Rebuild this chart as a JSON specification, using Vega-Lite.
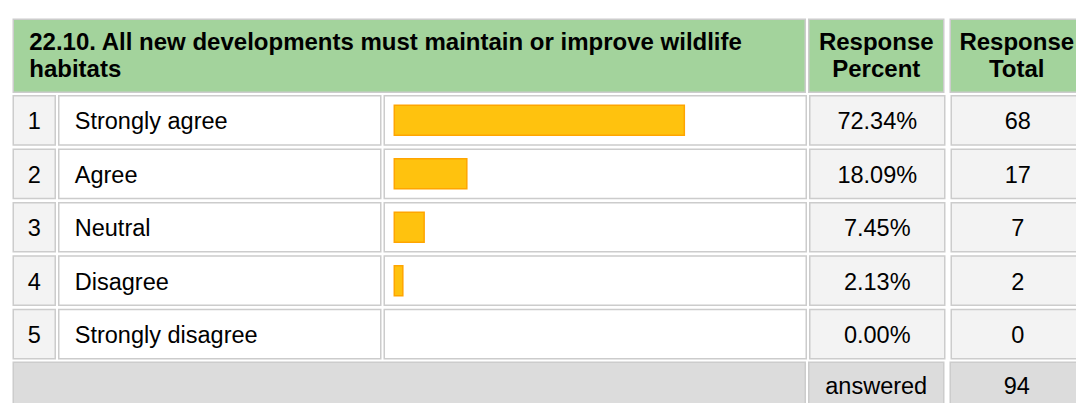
{
  "$schema": "https://vega.github.io/schema/vega-lite/v6.json",
  "padding": {"left": 12.25, "top": 18.25, "right": 0, "bottom": 0},
  "background": "white",
  "spacing": 1.5,
  "config": {
    "view": {"stroke": null},
    "font": "Liberation Sans",
    "text": {"font": "Liberation Sans", "color": "#000000"}
  },
  "datasets": {
    "rows": [
      {"n": "1", "label": "Strongly agree", "pct": 72.34, "pctText": "72.34%", "count": 68},
      {"n": "2", "label": "Agree", "pct": 18.09, "pctText": "18.09%", "count": 17},
      {"n": "3", "label": "Neutral", "pct": 7.45, "pctText": "7.45%", "count": 7},
      {"n": "4", "label": "Disagree", "pct": 2.13, "pctText": "2.13%", "count": 2},
      {"n": "5", "label": "Strongly disagree", "pct": 0, "pctText": "0.00%", "count": 0}
    ],
    "header": [
      {"title": "22.10. All new developments must maintain or improve wildlife\nhabitats", "pctHead": "Response\nPercent", "totalHead": "Response\nTotal"}
    ],
    "footer": [
      {"label": "answered", "total": 94}
    ]
  },
  "vconcat": [
    {
      "spacing": 1.5,
      "hconcat": [
        {
          "width": 792, "height": 73,
          "data": {"name": "header"},
          "layer": [
            {"mark": {"type": "rect", "fill": "#a3d39c", "stroke": "#cccccc", "strokeWidth": 1.5},
             "encoding": {"x": {"value": 0}, "x2": {"value": "width"}, "y": {"value": 0}, "y2": {"value": "height"}}},
            {"mark": {"type": "text", "align": "left", "baseline": "middle", "lineBreak": "\n", "lineHeight": 27, "fontSize": 24, "fontWeight": "bold", "dx": 16, "dy": -12.5},
             "encoding": {"x": {"value": 0}, "text": {"field": "title"}}}
          ]
        },
        {
          "spacing": 4.5,
          "hconcat": [
            {
              "width": 135, "height": 73,
              "data": {"name": "header"},
              "layer": [
                {"mark": {"type": "rect", "fill": "#a3d39c", "stroke": "#cccccc", "strokeWidth": 1.5},
                 "encoding": {"x": {"value": 0}, "x2": {"value": "width"}, "y": {"value": 0}, "y2": {"value": "height"}}},
                {"mark": {"type": "text", "align": "center", "baseline": "middle", "lineBreak": "\n", "lineHeight": 27, "fontSize": 24, "fontWeight": "bold", "dy": -12.5},
                 "encoding": {"text": {"field": "pctHead"}}}
              ]
            },
            {
              "width": 133, "height": 73,
              "data": {"name": "header"},
              "layer": [
                {"mark": {"type": "rect", "fill": "#a3d39c", "stroke": "#cccccc", "strokeWidth": 1.5},
                 "encoding": {"x": {"value": 0}, "x2": {"value": "width"}, "y": {"value": 0}, "y2": {"value": "height"}}},
                {"mark": {"type": "text", "align": "center", "baseline": "middle", "lineBreak": "\n", "lineHeight": 27, "fontSize": 24, "fontWeight": "bold", "dy": -12.5},
                 "encoding": {"text": {"field": "totalHead"}}}
              ]
            }
          ]
        }
      ]
    },
    {
      "spacing": 1.5,
      "hconcat": [
        {
          "width": 42, "height": 263,
          "data": {"name": "rows"},
          "encoding": {"y": {"field": "n", "type": "nominal", "axis": null, "scale": {"domain": ["1", "2", "3", "4", "5"], "paddingInner": 0.08, "paddingOuter": 0}}},
          "layer": [
            {"mark": {"type": "rect", "fill": "#f3f3f3", "stroke": "#cccccc", "strokeWidth": 1.5},
             "encoding": {"x": {"value": 0}, "x2": {"value": "width"}}},
            {"mark": {"type": "text", "align": "center", "baseline": "middle", "fontSize": 23.5, "dy": 2},
             "encoding": {"text": {"field": "n"}}}
          ]
        },
        {
          "width": 322, "height": 263,
          "data": {"name": "rows"},
          "encoding": {"y": {"field": "n", "type": "nominal", "axis": null, "scale": {"domain": ["1", "2", "3", "4", "5"], "paddingInner": 0.08, "paddingOuter": 0}}},
          "layer": [
            {"mark": {"type": "rect", "fill": "#ffffff", "stroke": "#cccccc", "strokeWidth": 1.5},
             "encoding": {"x": {"value": 0}, "x2": {"value": "width"}}},
            {"mark": {"type": "text", "align": "left", "baseline": "middle", "fontSize": 23.5, "dx": 16, "dy": 2},
             "encoding": {"x": {"value": 0}, "text": {"field": "label"}}}
          ]
        },
        {
          "width": 422, "height": 263,
          "data": {"name": "rows"},
          "encoding": {"y": {"field": "n", "type": "nominal", "axis": null, "scale": {"domain": ["1", "2", "3", "4", "5"], "paddingInner": 0.08, "paddingOuter": 0}}},
          "layer": [
            {"mark": {"type": "rect", "fill": "#ffffff", "stroke": "#cccccc", "strokeWidth": 1.5},
             "encoding": {"x": {"value": 0}, "x2": {"value": "width"}}},
            {"transform": [{"filter": "datum.pct > 0"}],
             "mark": {"type": "bar", "fill": "#ffc20e", "stroke": "#ffa500", "strokeWidth": 1.5, "height": {"band": 0.61}},
             "encoding": {
               "x": {"field": "pct", "type": "quantitative", "axis": null, "scale": {"domain": [-2.5, 102.75], "nice": false, "zero": false}},
               "x2": {"datum": 0}
             }}
          ]
        },
        {
          "spacing": 4.5,
          "hconcat": [
            {
              "width": 135, "height": 263,
              "data": {"name": "rows"},
              "encoding": {"y": {"field": "n", "type": "nominal", "axis": null, "scale": {"domain": ["1", "2", "3", "4", "5"], "paddingInner": 0.08, "paddingOuter": 0}}},
              "layer": [
                {"mark": {"type": "rect", "fill": "#f3f3f3", "stroke": "#cccccc", "strokeWidth": 1.5},
                 "encoding": {"x": {"value": 0}, "x2": {"value": "width"}}},
                {"mark": {"type": "text", "align": "center", "baseline": "middle", "fontSize": 23.5, "dy": 2},
                 "encoding": {"text": {"field": "pctText"}}}
              ]
            },
            {
              "width": 133, "height": 263,
              "data": {"name": "rows"},
              "encoding": {"y": {"field": "n", "type": "nominal", "axis": null, "scale": {"domain": ["1", "2", "3", "4", "5"], "paddingInner": 0.08, "paddingOuter": 0}}},
              "layer": [
                {"mark": {"type": "rect", "fill": "#f3f3f3", "stroke": "#cccccc", "strokeWidth": 1.5},
                 "encoding": {"x": {"value": 0}, "x2": {"value": "width"}}},
                {"mark": {"type": "text", "align": "center", "baseline": "middle", "fontSize": 23.5, "dy": 2},
                 "encoding": {"text": {"field": "count", "type": "quantitative"}}}
              ]
            }
          ]
        }
      ]
    },
    {
      "spacing": 1.5,
      "hconcat": [
        {
          "width": 792, "height": 45,
          "data": {"name": "footer"},
          "mark": {"type": "rect", "fill": "#dcdcdc", "stroke": "#cccccc", "strokeWidth": 1.5},
          "encoding": {"x": {"value": 0}, "x2": {"value": "width"}, "y": {"value": 0}, "y2": {"value": "height"}}
        },
        {
          "spacing": 4.5,
          "hconcat": [
            {
              "width": 135, "height": 45,
              "data": {"name": "footer"},
              "layer": [
                {"mark": {"type": "rect", "fill": "#dcdcdc", "stroke": "#cccccc", "strokeWidth": 1.5},
                 "encoding": {"x": {"value": 0}, "x2": {"value": "width"}, "y": {"value": 0}, "y2": {"value": "height"}}},
                {"mark": {"type": "text", "align": "center", "baseline": "middle", "fontSize": 23.5, "dy": 2},
                 "encoding": {"text": {"field": "label"}}}
              ]
            },
            {
              "width": 133, "height": 45,
              "data": {"name": "footer"},
              "layer": [
                {"mark": {"type": "rect", "fill": "#dcdcdc", "stroke": "#cccccc", "strokeWidth": 1.5},
                 "encoding": {"x": {"value": 0}, "x2": {"value": "width"}, "y": {"value": 0}, "y2": {"value": "height"}}},
                {"mark": {"type": "text", "align": "center", "baseline": "middle", "fontSize": 23.5, "dy": 2},
                 "encoding": {"text": {"field": "total", "type": "quantitative"}}}
              ]
            }
          ]
        }
      ]
    }
  ]
}
